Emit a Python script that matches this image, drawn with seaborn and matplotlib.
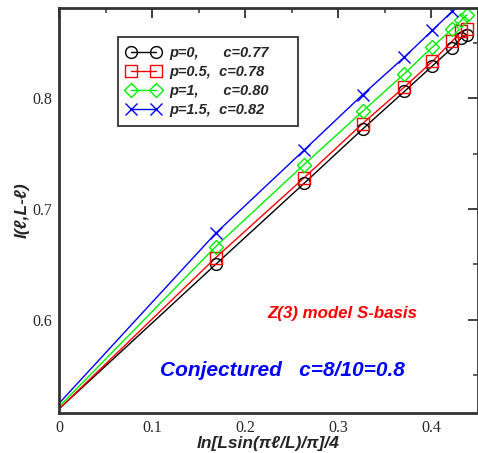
import matplotlib
matplotlib.use("Agg")
import matplotlib.pyplot as plt
from matplotlib.lines import Line2D
from matplotlib.ticker import MultipleLocator
import numpy as np
import pandas as pd
import seaborn as sns

sns.set_style("white")
plt.rcParams['font.family'] = ['Liberation Sans', 'DejaVu Sans']

# --- data ---
x_pts = [0.168, 0.263, 0.326, 0.371, 0.401, 0.422, 0.432, 0.438]

y_p0 = [0.650, 0.723, 0.772, 0.806, 0.829, 0.845, 0.854, 0.857]
y_p05 = [0.656, 0.728, 0.777, 0.810, 0.833, 0.851, 0.860, 0.862]
y_p1 = [0.666, 0.740, 0.788, 0.822, 0.846, 0.862, 0.870, 0.875]
y_p15 = [0.678, 0.753, 0.803, 0.837, 0.861, 0.878]

# value of each curve at x = 0 (fit intercept)
y0 = [0.520, 0.520, 0.522, 0.525]

labels = ["p=0,      c=0.77", "p=0.5,  c=0.78", "p=1,      c=0.80", "p=1.5,  c=0.82"]
colors = ["black", "red", "#00ee00", "blue"]
markers = ["o", "s", "D", "x"]
msizes = [8.5, 8.5, 7.5, 8.5]

series = [y_p0, y_p05, y_p1, y_p15]

rows = []
for lab, y, a in zip(labels, series, y0):
    xs = [0.0] + x_pts[:len(y)]
    ys = [a] + y
    for xv, yv in zip(xs, ys):
        rows.append({"x": xv, "y": yv, "series": lab})
df = pd.DataFrame(rows)

fig = plt.figure(figsize=(4.78, 4.53), dpi=100)
ax = fig.add_axes([0.124, 0.088, 0.876, 0.894])

sns.lineplot(data=df, x="x", y="y", hue="series", palette=colors,
             sort=False, linewidth=1.0, legend=False, ax=ax)

for lab, y, c, m, ms in zip(labels, series, colors, markers, msizes):
    ax.plot(x_pts[:len(y)], y, ls="none", marker=m, ms=ms, mfc="none",
            mec=c, mew=1.0, clip_on=True)

ax.set_xlim(0, 0.45)
ax.set_ylim(0.516, 0.881)
ax.xaxis.set_minor_locator(MultipleLocator(0.05))
ax.yaxis.set_minor_locator(MultipleLocator(0.05))
ax.set_xticks([0, 0.1, 0.2, 0.3, 0.4])
ax.set_xticklabels(["0", "0.1", "0.2", "0.3", "0.4"])
ax.set_yticks([0.6, 0.7, 0.8])
ax.set_yticklabels(["0.6", "0.7", "0.8"])

ax.tick_params(which="both", direction="in", top=True, right=True,
               color="#333333", labelsize=11.5, pad=5)
ax.tick_params(which="major", length=7, width=1.3)
ax.tick_params(which="minor", length=3.5, width=1.1)
for t in ax.get_xticklabels() + ax.get_yticklabels():
    t.set_family("Liberation Serif")

for s in ax.spines.values():
    s.set_linewidth(2.0)
    s.set_color("#333333")
    s.set_visible(True)

ax.set_xlabel("ln[Lsin(\u03c0\u2113/L)/\u03c0]/4", fontsize=12.5,
              fontweight="bold", style="italic", labelpad=0)
ax.set_ylabel("I(\u2113,L-\u2113)", fontsize=12.5, fontweight="bold",
              style="italic", labelpad=2)

ax.text(0.224, 0.606, "Z(3) model S-basis", color="red", fontsize=12.2,
        fontweight="bold", style="italic", ha="left", va="center")
ax.text(0.108, 0.554, "Conjectured   c=8/10=0.8", color="blue", fontsize=15,
        fontweight="bold", style="italic", ha="left", va="center")

handles = [Line2D([0], [0], color=c, marker=m, ms=ms, mfc="none", mec=c,
                  mew=1.0, lw=1.0)
           for c, m, ms in zip(colors, markers, msizes)]
pad = "\u00a0" * 5
leg = ax.legend(handles, [l + pad for l in labels], loc="upper left",
                bbox_to_anchor=(0.14, 0.928),
                borderaxespad=0, numpoints=2, handlelength=2.3,
                frameon=True, fancybox=False, edgecolor="black",
                prop={"weight": "bold", "style": "italic", "size": 10.5},
                labelspacing=0.35, handletextpad=0.6, borderpad=0.6)
leg.get_frame().set_linewidth(1.3)

fig.savefig("out.png", dpi=100)
